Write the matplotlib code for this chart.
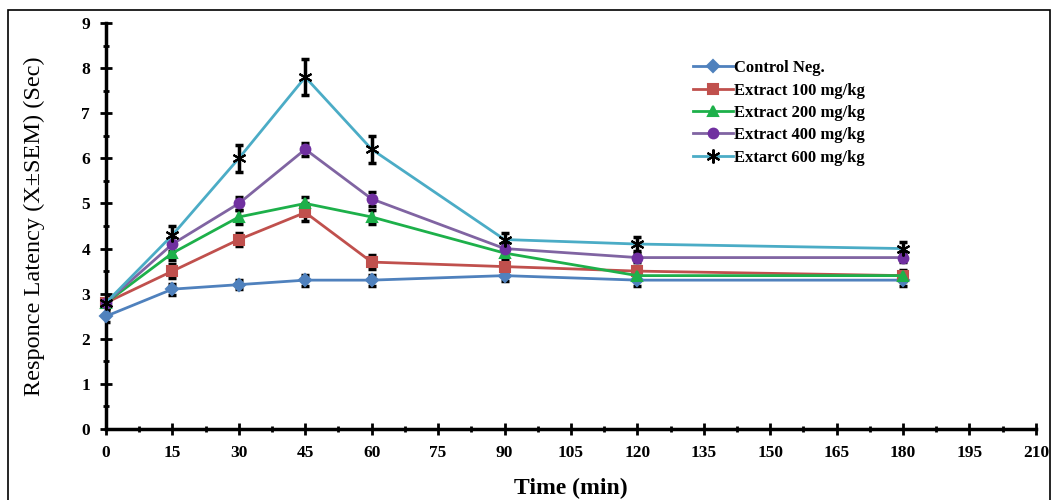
import matplotlib.pyplot as plt
import numpy as np
from matplotlib.patches import Rectangle
from matplotlib.ticker import MultipleLocator

plt.rcParams['font.family'] = ['Liberation Serif', 'DejaVu Serif']

time = [0, 15, 30, 45, 60, 90, 120, 180]
labels = ['Control Neg.', 'Extract 100 mg/kg', 'Extract 200 mg/kg',
          'Extract 400 mg/kg', 'Extarct 600 mg/kg']
control = [2.5, 3.1, 3.2, 3.3, 3.3, 3.4, 3.3, 3.3]
ext100 = [2.8, 3.5, 4.2, 4.8, 3.7, 3.6, 3.5, 3.4]
ext200 = [2.8, 3.9, 4.7, 5.0, 4.7, 3.9, 3.4, 3.4]
ext400 = [2.8, 4.1, 5.0, 6.2, 5.1, 4.0, 3.8, 3.8]
ext600 = [2.8, 4.3, 6.0, 7.8, 6.2, 4.2, 4.1, 4.0]
err_control = [0.12, 0.12, 0.1, 0.12, 0.12, 0.12, 0.12, 0.12]
err100 = [0.12, 0.15, 0.15, 0.2, 0.15, 0.12, 0.12, 0.12]
err200 = [0.12, 0.15, 0.15, 0.15, 0.15, 0.12, 0.1, 0.1]
err400 = [0.12, 0.15, 0.15, 0.15, 0.15, 0.12, 0.1, 0.1]
err600 = [0.12, 0.2, 0.3, 0.4, 0.3, 0.15, 0.15, 0.15]

series = [control, ext100, ext200, ext400, ext600]
errors = [err_control, err100, err200, err400, err600]
colors = ['#4F81BD', '#C0504D', '#1DB04A', '#8064A2', '#4BACC6']
markers = ['D', 's', '^', 'o', (6, 2, 0)]
mcolors = ['#4F81BD', '#C0504D', '#1DB04A', '#7030A0', 'black']
msizes = [6, 7, 7, 7, 10]

fig = plt.figure(figsize=(10.53, 5), dpi=100)
ax = fig.add_axes([0.1007, 0.142, 0.883, 0.812])

for y, e, c, m, mc, ms, lab in zip(series, errors, colors, markers, mcolors, msizes, labels):
    ax.errorbar(time, y, yerr=e, fmt='none', ecolor='black', elinewidth=2.5,
                capsize=3, capthick=2.5, zorder=2)
    ax.plot(time, y, color=c, lw=2, marker=m, markersize=ms,
            markerfacecolor=mc, markeredgecolor=mc, markeredgewidth=1.5,
            label=lab, zorder=3, clip_on=False)

ax.set_xlim(0, 210)
ax.set_ylim(0, 9)
ax.xaxis.set_major_locator(MultipleLocator(15))
ax.xaxis.set_minor_locator(MultipleLocator(7.5))
ax.yaxis.set_major_locator(MultipleLocator(1))
ax.yaxis.set_minor_locator(MultipleLocator(0.5))
ax.tick_params(which='major', direction='inout', length=9, width=2,
               labelsize=12.5, pad=7)
ax.tick_params(which='minor', direction='inout', length=5, width=2)
for t in ax.get_xticklabels() + ax.get_yticklabels():
    t.set_fontweight('bold')
for s in ['top', 'right']:
    ax.spines[s].set_visible(False)
for s in ['left', 'bottom']:
    ax.spines[s].set_linewidth(2.5)

ax.set_xlabel('Time (min)', fontsize=17, fontweight='bold', labelpad=12)
ax.set_ylabel('Responce Latency (X±SEM) (Sec)', fontsize=17.5, labelpad=26)

leg = ax.legend(loc='upper left', bbox_to_anchor=(0.615, 0.945), frameon=False,
                handlelength=2.4, handletextpad=0.05, labelspacing=0.38,
                prop={'family': 'Liberation Serif', 'weight': 'bold', 'size': 12})

fig.patches.append(Rectangle((8 / 1053, -0.02), 1042 / 1053, 1.0, transform=fig.transFigure,
                             fill=False, edgecolor='black', lw=1.2))

fig.savefig('out.png', dpi=100)
